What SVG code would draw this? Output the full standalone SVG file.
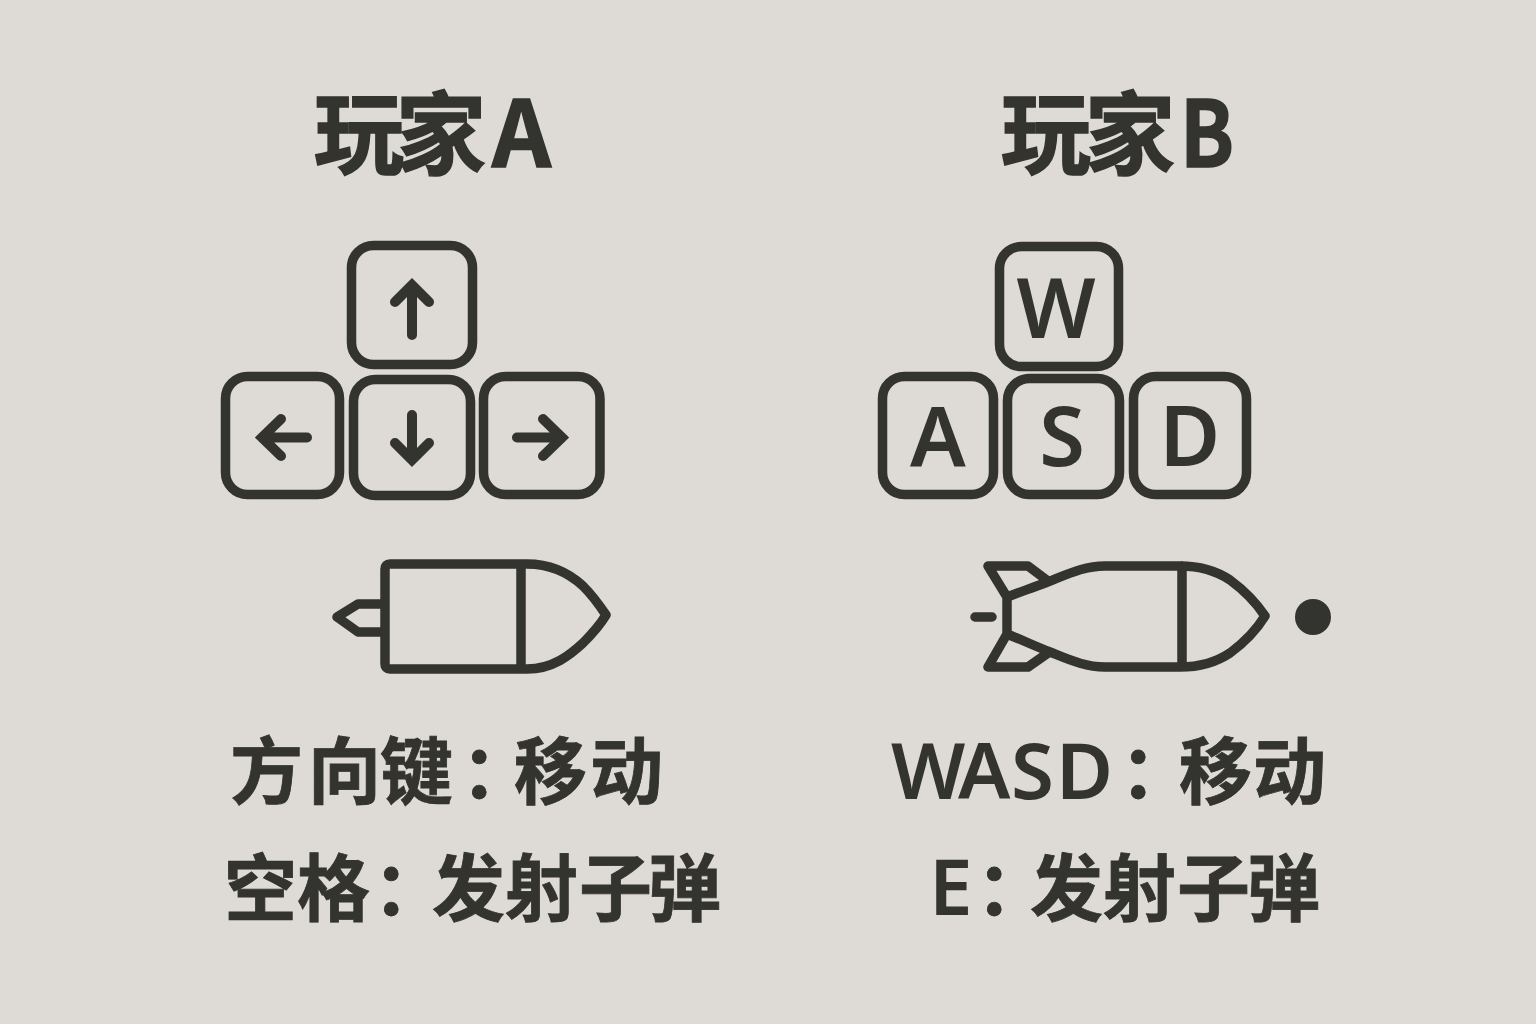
<svg xmlns="http://www.w3.org/2000/svg" width="1536" height="1024" viewBox="0 0 1536 1024">
<style>
.k{fill:none;stroke:#33332f;stroke-width:9.500;stroke-linejoin:round;stroke-linecap:round}
.a{fill:none;stroke:#33332f;stroke-width:10;stroke-linejoin:miter;stroke-miterlimit:4;stroke-linecap:round}
.t{font-family:"Noto Sans CJK SC","Noto Sans",sans-serif;fill:#33332f;stroke:#33332f;stroke-width:.8;font-weight:700}
.h{font-size:90px;stroke-width:1.500}
.l{font-size:73px}
.c{font-family:"Noto Sans","Noto Sans CJK SC",sans-serif;font-size:83px;font-weight:600;fill:#33332f;text-anchor:middle}
.w{font-family:"Noto Sans","Noto Sans CJK SC",sans-serif;font-size:78px;font-weight:600;fill:#33332f}
</style>
<rect width="1536" height="1024" fill="#dedad5"/>
<g id="playerA">
<text class="t h" x="314 396" y="167">玩家</text>
<text class="t h" x="492" y="167" style="font-size:92px">A</text>
<g id="keyUp"><rect class="k" x="351.500" y="245.500" width="121" height="119" rx="22"/><path class="a" d="M412 335V285M395 302L412 285L429 302"/></g>
<g id="keyLeft"><rect class="k" x="225.500" y="376.500" width="114" height="118" rx="22"/><path class="a" d="M307 437.500H262M281 419L262 437.500L281 456"/></g>
<g id="keyDown"><rect class="k" x="353.500" y="379.500" width="117" height="116" rx="22"/><path class="a" d="M412 415V460M395 443L412 460L429 443"/></g>
<g id="keyRight"><rect class="k" x="483.500" y="376.500" width="116.500" height="118" rx="22"/><path class="a" d="M517 437.500H562M543 419L562 437.500L543 456"/></g>
<g id="bulletA"><path class="k" d="M385 569Q385 564 390 564H527C553 564 570 574 583 586C592 595 600 606 606 615C600 625 592 634 583 643C570 655 553 669 527 669H390Q385 669 385 664ZM521 564V669M383 604H358L337 617L358 632H383"/></g>
<text class="t l" x="230 308 380 461 514 590" y="798">方向键：移动</text>
<text class="t l" x="224 297 373 432 505 579 648" y="915">空格：发射子弹</text>
</g>
<g id="playerB">
<text class="t h" x="1001 1085" y="167">玩家</text>
<text class="t h" x="1180" y="167" textLength="54" lengthAdjust="spacingAndGlyphs" style="font-size:92px">B</text>
<g id="keyW"><rect class="k" x="999.500" y="246.500" width="119" height="120" rx="22"/><text class="c" x="1056" y="338">W</text></g>
<g id="keyA"><rect class="k" x="882.500" y="376.500" width="111" height="118" rx="22"/><text class="c" x="938" y="467">A</text></g>
<g id="keyS"><rect class="k" x="1007.500" y="378.500" width="112" height="116" rx="22"/><text class="c" x="1062" y="466">S</text></g>
<g id="keyD"><rect class="k" x="1133.500" y="376.500" width="113" height="118" rx="22"/><text class="c" x="1190" y="466">D</text></g>
<g id="bulletB"><path class="k" d="M1007 597C1020 592 1035 587 1050 581C1070 573 1085 566 1105 566H1180C1200 566 1215 570 1230 580C1245 591 1257 604 1265 616C1257 629 1245 642 1230 653C1215 663 1200 667 1180 667H1105C1085 667 1070 660 1050 652C1035 646 1022 640 1007 634ZM1182 566V667M1007 597L988 566H1028L1048 581M1007 634L988 667H1028L1048 653M975 617H992"/><circle cx="1313" cy="617" r="18" fill="#33332f"/></g>
<text class="w" x="891 958 1011 1056" y="799">WASD</text>
<text class="t l" x="1120 1179 1253" y="798">：移动</text>
<text class="w" x="929" y="915">E</text>
<text class="t l" x="976 1030 1103 1177 1247" y="915">：发射子弹</text>
</g>
</svg>
